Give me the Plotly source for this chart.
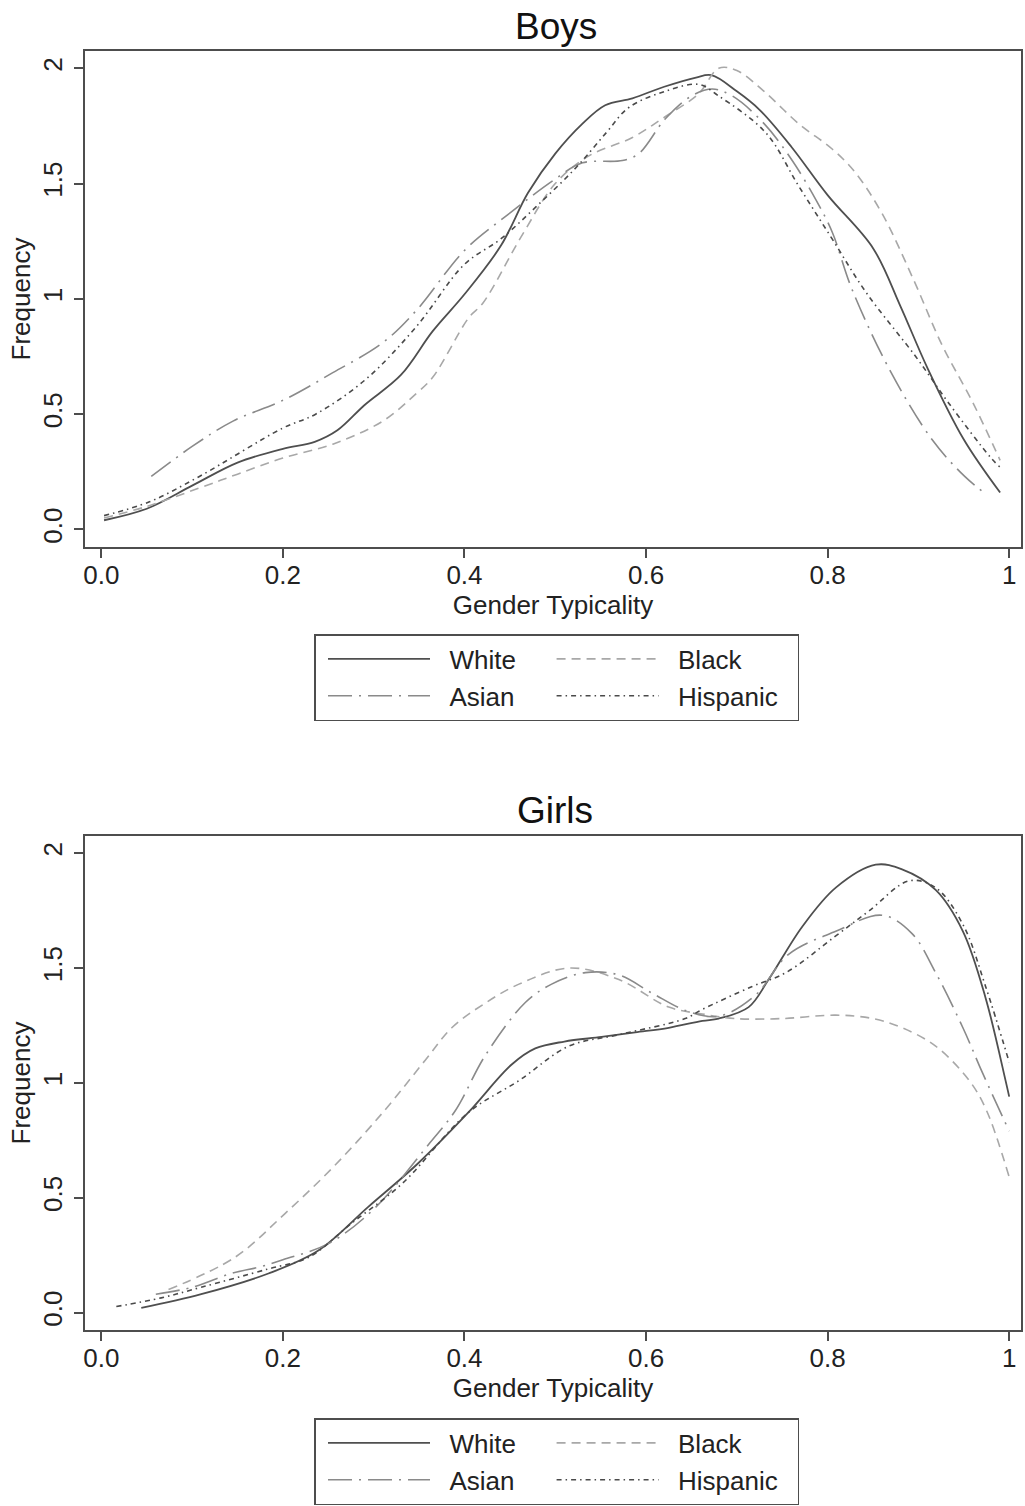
import plotly.graph_objects as go

# ---------------- Boys: kernel density of gender typicality ----------------
boys_white_x = [0.003, 0.05, 0.10, 0.15, 0.20, 0.235, 0.26, 0.29, 0.33, 0.365, 0.40, 0.44, 0.47, 0.50,
                0.53, 0.555, 0.585, 0.62, 0.655, 0.672, 0.70, 0.725, 0.76, 0.80, 0.85, 0.88, 0.91, 0.95, 0.99]
boys_white_y = [0.04, 0.09, 0.19, 0.29, 0.35, 0.38, 0.43, 0.54, 0.67, 0.86, 1.02, 1.23, 1.46, 1.63,
                1.76, 1.84, 1.87, 1.92, 1.96, 1.97, 1.90, 1.82, 1.66, 1.45, 1.22, 0.97, 0.70, 0.39, 0.16]

boys_black_x = [0.003, 0.05, 0.108, 0.15, 0.20, 0.255, 0.31, 0.347, 0.365, 0.405, 0.42, 0.464, 0.50, 0.537,
                0.585, 0.621, 0.658, 0.68, 0.70, 0.73, 0.768, 0.805, 0.83, 0.86, 0.895, 0.926, 0.96, 0.99]
boys_black_y = [0.05, 0.10, 0.18, 0.24, 0.31, 0.37, 0.47, 0.59, 0.66, 0.92, 0.98, 1.28, 1.50, 1.62,
                1.70, 1.79, 1.89, 2.00, 1.99, 1.90, 1.76, 1.65, 1.55, 1.37, 1.08, 0.80, 0.55, 0.30]

boys_asian_x = [0.055, 0.10, 0.145, 0.20, 0.255, 0.31, 0.347, 0.40, 0.446, 0.50, 0.53, 0.574, 0.592,
                0.621, 0.65, 0.673, 0.695, 0.73, 0.761, 0.787, 0.805, 0.827, 0.87, 0.915, 0.951, 0.974]
boys_asian_y = [0.23, 0.36, 0.47, 0.56, 0.68, 0.81, 0.95, 1.21, 1.36, 1.52, 1.59, 1.60, 1.63,
                1.78, 1.88, 1.91, 1.88, 1.76, 1.60, 1.43, 1.29, 1.04, 0.68, 0.39, 0.23, 0.155]

boys_hisp_x = [0.003, 0.053, 0.108, 0.20, 0.236, 0.291, 0.347, 0.40, 0.44, 0.479, 0.523, 0.556, 0.581,
               0.621, 0.658, 0.68, 0.732, 0.768, 0.805, 0.842, 0.897, 0.933, 0.98, 0.99]
boys_hisp_y = [0.06, 0.12, 0.23, 0.44, 0.50, 0.65, 0.88, 1.15, 1.26, 1.40, 1.57, 1.72, 1.83,
               1.90, 1.93, 1.88, 1.72, 1.49, 1.26, 1.03, 0.75, 0.55, 0.31, 0.27]

# ---------------- Girls ----------------
girls_white_x = [0.044, 0.11, 0.184, 0.239, 0.294, 0.349, 0.404, 0.452, 0.478, 0.51, 0.551, 0.588, 0.625,
                 0.662, 0.68, 0.713, 0.735, 0.772, 0.809, 0.853, 0.882, 0.919, 0.949, 0.974, 0.996, 1.0]
girls_white_y = [0.02, 0.08, 0.17, 0.27, 0.46, 0.65, 0.87, 1.08, 1.15, 1.18, 1.20, 1.22, 1.24,
                 1.27, 1.28, 1.33, 1.45, 1.68, 1.85, 1.95, 1.93, 1.84, 1.66, 1.37, 1.01, 0.94]

girls_black_x = [0.074, 0.147, 0.202, 0.257, 0.312, 0.357, 0.386, 0.42, 0.46, 0.515, 0.57, 0.625, 0.662,
                 0.698, 0.75, 0.809, 0.85, 0.882, 0.919, 0.956, 0.975, 1.0]
girls_black_y = [0.10, 0.24, 0.43, 0.64, 0.88, 1.10, 1.24, 1.34, 1.43, 1.50, 1.45, 1.33, 1.30,
                 1.28, 1.28, 1.295, 1.28, 1.24, 1.16, 1.01, 0.88, 0.59]

girls_asian_x = [0.06, 0.10, 0.143, 0.176, 0.20, 0.25, 0.30, 0.36, 0.39, 0.423, 0.467, 0.496, 0.533,
                 0.57, 0.607, 0.647, 0.68, 0.72, 0.757, 0.809, 0.86, 0.893, 0.919, 0.949, 0.971, 1.0]
girls_asian_y = [0.08, 0.11, 0.17, 0.20, 0.23, 0.30, 0.45, 0.73, 0.88, 1.12, 1.35, 1.43, 1.48,
                 1.47, 1.39, 1.31, 1.29, 1.38, 1.56, 1.66, 1.73, 1.65, 1.48, 1.24, 1.04, 0.79]

girls_hisp_x = [0.0165, 0.066, 0.11, 0.184, 0.228, 0.276, 0.331, 0.404, 0.46, 0.515, 0.57, 0.643, 0.662,
                0.717, 0.754, 0.809, 0.846, 0.89, 0.919, 0.949, 0.974, 1.0]
girls_hisp_y = [0.026, 0.064, 0.11, 0.19, 0.24, 0.39, 0.56, 0.87, 1.01, 1.16, 1.21, 1.28, 1.32,
                1.42, 1.48, 1.64, 1.75, 1.88, 1.85, 1.69, 1.42, 1.09]

groups = ["White", "Black", "Asian", "Hispanic"]
x_tickvals = [0, 0.2, 0.4, 0.6, 0.8, 1]
x_ticktext = ["0.0", "0.2", "0.4", "0.6", "0.8", "1"]
y_tickvals = [0, 0.5, 1, 1.5, 2]
y_ticktext = ["0.0", "0.5", "1", "1.5", "2"]

FONT = "Liberation Sans, Arial, Helvetica, sans-serif"
INK = "#4d4d4d"
TEXT = "#222222"
NB = "\u00a0"

line_styles = {
    "White": dict(color="#4f4f4f", width=1.8, dash="solid"),
    "Black": dict(color="#a8a8a8", width=1.6, dash="9px,6px"),
    "Asian": dict(color="#8a8a8a", width=1.6, dash="24px,7px,2px,7px"),
    "Hispanic": dict(color="#4a4a4a", width=1.6, dash="5px,4px,1.5px,4px"),
}
# legend columns: White/Asian on the left, Black/Hispanic on the right
legend_column = {"White": "left", "Asian": "left", "Black": "right", "Hispanic": "right"}
# non-breaking spaces keep the gap between key line and label, and between columns
legend_label = {
    "White": NB * 2 + "White" + NB * 3,
    "Asian": NB * 2 + "Asian" + NB * 3,
    "Black": NB * 2 + "Black" + NB * 2,
    "Hispanic": NB * 2 + "Hispanic" + NB * 2,
}

panels = [
    ("x", "y", "legend", {
        "White": (boys_white_x, boys_white_y),
        "Black": (boys_black_x, boys_black_y),
        "Asian": (boys_asian_x, boys_asian_y),
        "Hispanic": (boys_hisp_x, boys_hisp_y),
    }),
    ("x2", "y2", "legend2", {
        "White": (girls_white_x, girls_white_y),
        "Black": (girls_black_x, girls_black_y),
        "Asian": (girls_asian_x, girls_asian_y),
        "Hispanic": (girls_hisp_x, girls_hisp_y),
    }),
]

fig = go.Figure()
for xa, ya, leg, series in panels:
    for g in groups:
        xs, ys = series[g]
        fig.add_trace(go.Scatter(
            x=xs, y=ys, mode="lines", name=legend_label[g],
            line=dict(shape="spline", smoothing=1.0, **line_styles[g]),
            xaxis=xa, yaxis=ya, legend=leg, legendgroup=legend_column[g],
            showlegend=True, hoverinfo="skip",
        ))

W, H = 1025, 1506
ML, MR = 85, 4


def ydom(top_px, bottom_px):
    return [1 - bottom_px / H, 1 - top_px / H]


axis_common = dict(showline=True, linecolor=INK, linewidth=1.5, mirror=True,
                   ticks="outside", ticklen=9, tickwidth=1.5, tickcolor=INK,
                   showgrid=False, zeroline=False,
                   tickfont=dict(family=FONT, size=26, color=TEXT))

xaxis_common = dict(axis_common, range=[-0.018, 1.013], tickvals=x_tickvals, ticktext=x_ticktext,
                    ticklabelstandoff=-5,
                    title=dict(text="Gender Typicality", font=dict(family=FONT, size=26, color=TEXT),
                               standoff=4))
yaxis_common = dict(axis_common, range=[-0.076, 2.075], tickvals=y_tickvals, ticktext=y_ticktext,
                    tickangle=-90, ticklabelstandoff=2,
                    title=dict(text="Frequency", font=dict(family=FONT, size=26, color=TEXT),
                               standoff=0))

legend_common = dict(orientation="h", traceorder="grouped", indentation=9,
                     xanchor="center", x=(556.5 - ML) / (W - ML - MR), yanchor="top",
                     bgcolor="white", bordercolor=INK, borderwidth=1.5,
                     itemwidth=102, itemclick=False, itemdoubleclick=False,
                     font=dict(family=FONT, size=26, color=TEXT))

fig.update_layout(
    width=W, height=H,
    margin=dict(l=ML, r=MR, t=0, b=0, autoexpand=False),
    paper_bgcolor="white", plot_bgcolor="white",
    xaxis=dict(xaxis_common, domain=[0, 1], anchor="y"),
    yaxis=dict(yaxis_common, domain=ydom(51, 547), anchor="x"),
    xaxis2=dict(xaxis_common, domain=[0, 1], anchor="y2"),
    yaxis2=dict(yaxis_common, domain=ydom(836, 1330), anchor="x2"),
    legend=dict(legend_common, y=1 - 634 / H),
    legend2=dict(legend_common, y=1 - 1418 / H),
    annotations=[
        dict(text="Boys", x=(556 - ML) / (W - ML - MR), xref="paper", y=1 - 27 / H, yref="paper",
             xanchor="center", yanchor="middle", showarrow=False,
             font=dict(family=FONT, size=37, color="#111111")),
        dict(text="Girls", x=(555 - ML) / (W - ML - MR), xref="paper", y=1 - 810 / H, yref="paper",
             xanchor="center", yanchor="middle", showarrow=False,
             font=dict(family=FONT, size=37, color="#111111")),
    ],
    showlegend=True,
)

fig.write_html("out.html")
